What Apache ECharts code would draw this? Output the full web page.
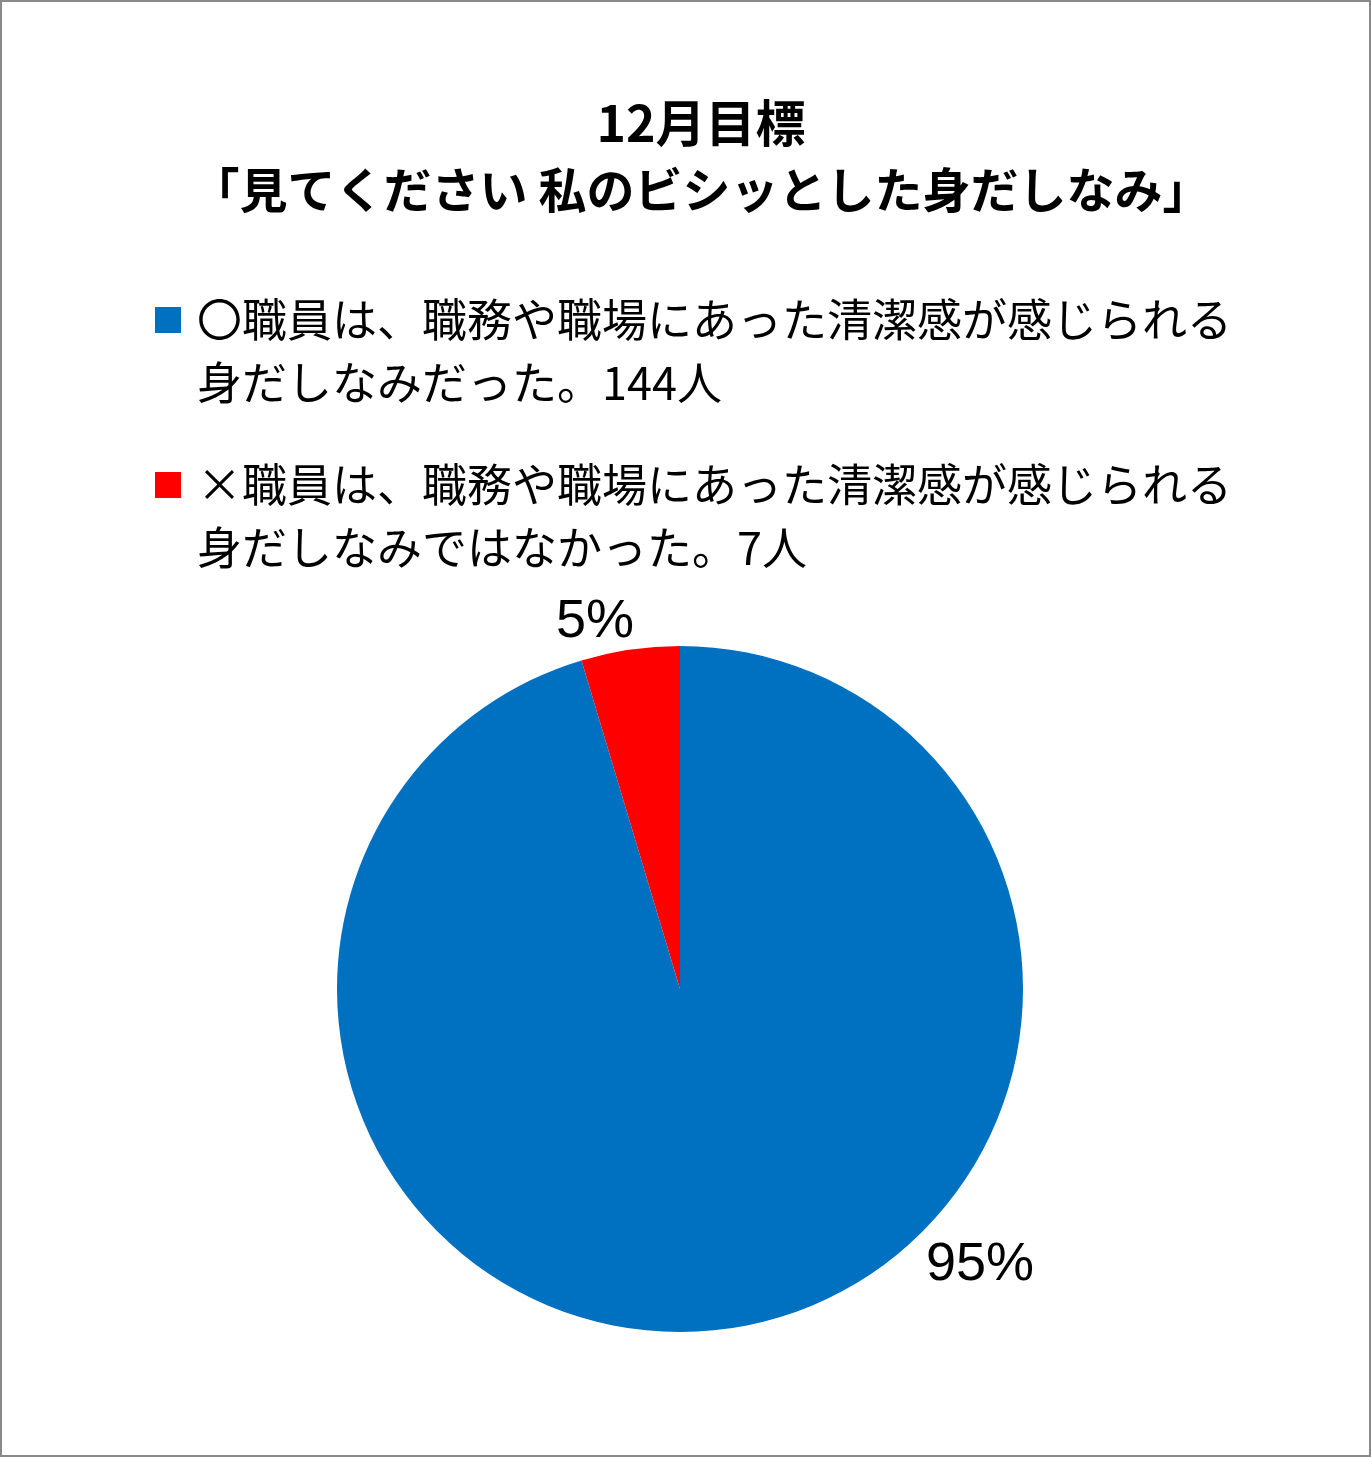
<!DOCTYPE html>
<html>
<head>
<meta charset="utf-8">
<style>
html,body{margin:0;padding:0;background:#fff;}
#chart{width:1371px;height:1457px;}
</style>
<script src="https://cdn.jsdelivr.net/npm/echarts@6/dist/echarts.min.js"></script>
</head>
<body>
<div id="chart"></div>
<script>
const titleLines = ['12月目標', '「見てください 私のビシッとした身だしなみ」'];
const categories = [
  '〇職員は、職務や職場にあった清潔感が感じられる\n身だしなみだった。144人',
  '×職員は、職務や職場にあった清潔感が感じられる\n身だしなみではなかった。7人'
];
const values = [144, 7];
const colors = ['#0070C0', '#FF0000'];

const chart = echarts.init(document.getElementById('chart'), null, {renderer: 'canvas'});
const FONT = '"Noto Sans CJK JP", "Noto Sans", sans-serif';
const labelPos = [[980, 1265], [595, 622]];
const legendIconTop = [307, 472];

const legendGraphics = [];
categories.forEach((c, i) => {
  legendGraphics.push({
    type: 'rect',
    shape: {x: 155, y: legendIconTop[i], width: 26, height: 26},
    style: {fill: colors[i]},
    silent: true
  });
  legendGraphics.push({
    type: 'text',
    x: 197,
    y: legendIconTop[i] + 13 - 31.5,
    style: {
      text: c,
      font: '45px ' + FONT,
      lineHeight: 63,
      fill: '#000',
      align: 'left',
      verticalAlign: 'top'
    },
    silent: true
  });
});

chart.setOption({
  backgroundColor: '#fff',
  animation: false,
  color: colors,
  title: {
    text: '{a|' + titleLines[0] + '}\n{b|' + titleLines[1] + '}',
    left: 696,
    textAlign: 'center',
    top: 84,
    textStyle: {
      rich: {
        a: {fontFamily: FONT, fontWeight: 'bold', fontSize: 50, lineHeight: 67, color: '#000'},
        b: {fontFamily: FONT, fontWeight: 'bold', fontSize: 48, lineHeight: 67, color: '#000'}
      }
    }
  },
  graphic: legendGraphics.concat([{
    type: 'rect',
    shape: {x: 1, y: 1, width: 1369, height: 1455},
    style: {fill: 'none', stroke: '#898989', lineWidth: 2},
    silent: true,
    z: 100
  }]),
  series: [{
    type: 'pie',
    center: [680, 989],
    radius: 343,
    startAngle: 90,
    clockwise: true,
    avoidLabelOverlap: false,
    data: categories.map((c, i) => ({name: c, value: values[i]})),
    itemStyle: {borderWidth: 0},
    emphasis: {disabled: true},
    labelLine: {show: false},
    label: {
      show: true,
      position: 'outside',
      formatter: p => Math.round(p.percent) + '%',
      fontFamily: '"Liberation Sans", Arial, sans-serif',
      fontSize: 54,
      color: '#000'
    },
    labelLayout: function (params) {
      const p = labelPos[params.dataIndex];
      return {x: p[0], y: p[1], align: 'center', verticalAlign: 'middle'};
    }
  }]
});
</script>
</body>
</html>
